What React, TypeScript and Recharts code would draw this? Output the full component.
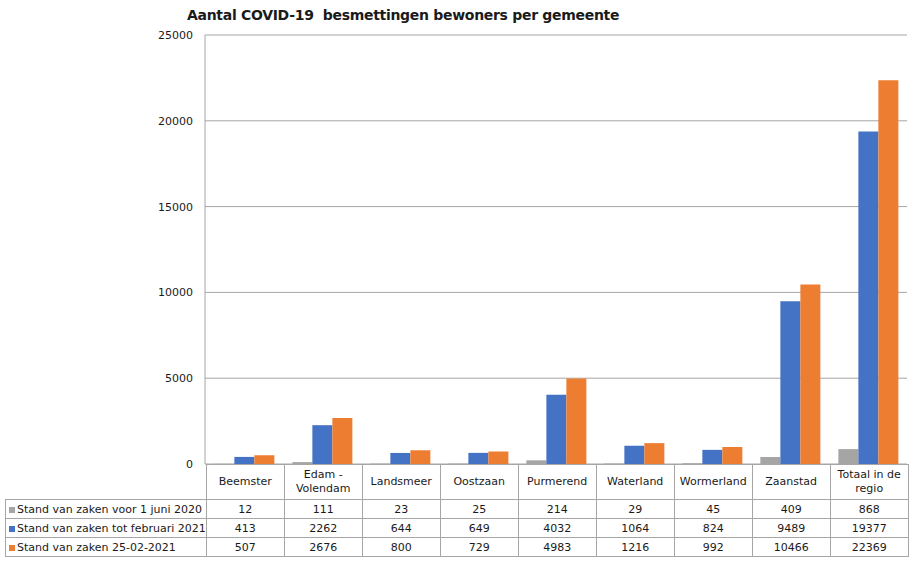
import { BarChart, Bar, XAxis, YAxis, CartesianGrid } from 'recharts'

const gemeenten = [
  'Beemster',
  'Edam - Volendam',
  'Landsmeer',
  'Oostzaan',
  'Purmerend',
  'Waterland',
  'Wormerland',
  'Zaanstad',
  'Totaal in de regio',
]
const voorJuni2020 = [12, 111, 23, 25, 214, 29, 45, 409, 868]
const totFebruari2021 = [413, 2262, 644, 649, 4032, 1064, 824, 9489, 19377]
const stand25022021 = [507, 2676, 800, 729, 4983, 1216, 992, 10466, 22369]
const yTicks = [0, 5000, 10000, 15000, 20000, 25000]

const series = [
  { key: 'juni', name: 'Stand van zaken voor 1 juni 2020', color: '#A5A5A5', values: voorJuni2020 },
  { key: 'feb', name: 'Stand van zaken tot februari 2021', color: '#4472C4', values: totFebruari2021 },
  { key: 'stand', name: 'Stand van zaken 25-02-2021', color: '#ED7D31', values: stand25022021 },
]

const chartData = gemeenten.map((g, i) => ({
  gemeente: g,
  juni: voorJuni2020[i],
  feb: totFebruari2021[i],
  stand: stand25022021[i],
}))

const font = '"DejaVu Sans", Tahoma, sans-serif'
const border = '1px solid #a6a6a6'
const firstCol = 200
const colW = 78

export default function App() {
  return (
    <div style={{ position: 'absolute', left: 0, top: 0, width: 911, height: 562, background: '#fff', fontFamily: font }}>
      <div
        style={{
          position: 'absolute',
          left: 187,
          top: 7,
          fontSize: 14,
          fontWeight: 'bold',
          color: '#1a1a1a',
          whiteSpace: 'nowrap',
          letterSpacing: -0.3,
        }}
      >
        Aantal COVID-19&nbsp; besmettingen bewoners per gemeente
      </div>
      <div style={{ position: 'absolute', left: 0, top: 0 }}>
        <BarChart
          width={911}
          height={480}
          data={chartData}
          margin={{ top: 35, right: 4, bottom: 16, left: 0 }}
          barCategoryGap="12%"
          barGap={0}
        >
          <CartesianGrid vertical={false} stroke="#a6a6a6" />
          <XAxis dataKey="gemeente" hide />
          <YAxis
            width={205}
            domain={[0, 25000]}
            ticks={yTicks}
            tickLine={false}
            tickSize={6}
            tickMargin={6}
            axisLine={{ stroke: '#a6a6a6' }}
            tick={{ fill: '#1a1a1a', fontSize: 11, fontFamily: font }}
            interval={0}
          />
          {series.map((s) => (
            <Bar key={s.key} dataKey={s.key} name={s.name} fill={s.color} isAnimationActive={false} />
          ))}
        </BarChart>
      </div>
      <table
        style={{
          position: 'absolute',
          left: 5,
          top: 464,
          borderCollapse: 'collapse',
          tableLayout: 'fixed',
          fontSize: 11,
          color: '#1a1a1a',
          fontFamily: font,
        }}
      >
        <colgroup>
          <col style={{ width: firstCol }} />
          {gemeenten.map((g) => (
            <col key={g} style={{ width: colW }} />
          ))}
        </colgroup>
        <tbody>
          <tr style={{ height: 35 }}>
            <td style={{ padding: 0 }} />
            {gemeenten.map((g) => (
              <td key={g} style={{ border, textAlign: 'center', padding: '0 2px', lineHeight: '14px', background: '#fff' }}>
                {g}
              </td>
            ))}
          </tr>
          {series.map((s) => (
            <tr key={s.key} style={{ height: 19, background: '#fff' }}>
              <td style={{ border, padding: '0 0 0 3px', whiteSpace: 'nowrap', lineHeight: '17px' }}>
                <span
                  style={{
                    display: 'inline-block',
                    width: 6,
                    height: 6,
                    background: s.color,
                    marginRight: 2,
                    verticalAlign: 'middle',
                  }}
                />
                {s.name}
              </td>
              {s.values.map((v, i) => (
                <td key={i} style={{ border, textAlign: 'center', padding: 0, lineHeight: '17px' }}>
                  {v}
                </td>
              ))}
            </tr>
          ))}
        </tbody>
      </table>
    </div>
  )
}
